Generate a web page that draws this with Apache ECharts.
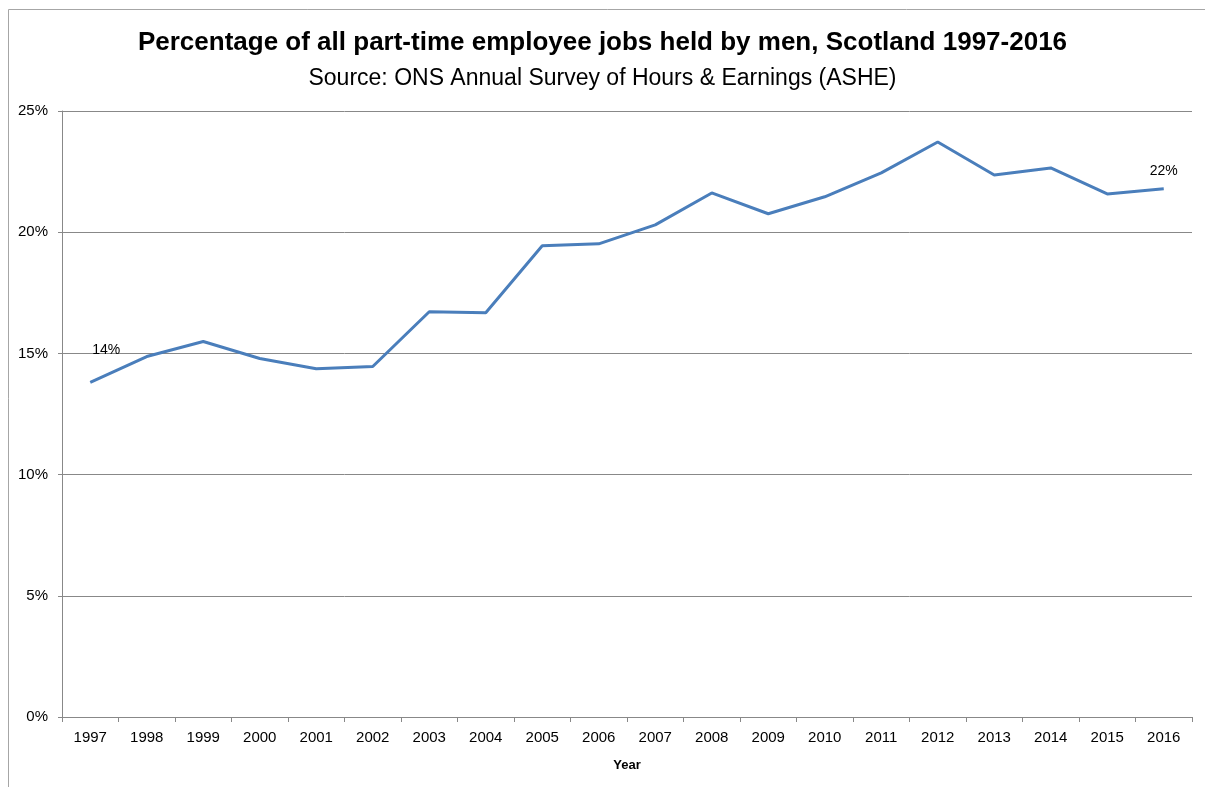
<!DOCTYPE html>
<html><head><meta charset="utf-8">
<script src="https://cdn.jsdelivr.net/npm/echarts@6/dist/echarts.min.js"></script>
<style>html,body{margin:0;padding:0;background:#fff}#c{width:1205px;height:787px}</style>
</head><body><div id="c"></div>
<script>
const years = ['1997','1998','1999','2000','2001','2002','2003','2004','2005','2006','2007','2008','2009','2010','2011','2012','2013','2014','2015','2016'];
const menShare = [13.8,14.87,15.49,14.79,14.37,14.46,16.72,16.68,19.44,19.52,20.30,21.62,20.76,21.46,22.45,23.72,22.36,22.65,21.58,21.79];
const yTicks = [0,5,10,15,20,25];
const titleText = 'Percentage of all part-time employee jobs held by men, Scotland 1997-2016';
const subText = 'Source: ONS Annual Survey of Hours & Earnings (ASHE)';
const labelled = {0:'14%', 19:'22%'};
const labelOffsets = {0:[16,-10], 19:[0,4]};

const font = 'Liberation Sans, sans-serif';
const seriesData = menShare.map((v,i)=>labelled[i]
  ? {value:v,label:{show:true,formatter:labelled[i],offset:labelOffsets[i]}}
  : {value:v});
const chart = echarts.init(document.getElementById('c'));
chart.setOption({
  animation:false,
  textStyle:{fontFamily:font},
  graphic:[{type:'rect',shape:{x:8.5,y:9.5,width:1210,height:800},style:{fill:'none',stroke:'#a6a6a6',lineWidth:1},silent:true}],
  title:[{text:titleText,left:'center',top:25,textStyle:{fontFamily:font,fontWeight:'bold',fontSize:26,color:'#000'}},
         {text:subText,left:'center',top:62,textStyle:{fontFamily:font,fontWeight:'normal',fontSize:23,color:'#000'}}],
  grid:{left:62,right:13,top:111,bottom:70,containLabel:false},
  xAxis:{type:'category',data:years,boundaryGap:true,name:'Year',nameLocation:'middle',nameGap:42,
    nameTextStyle:{fontFamily:font,fontWeight:'bold',fontSize:13,color:'#000'},
    axisLine:{lineStyle:{color:'#888',width:1}},
    axisTick:{show:true,alignWithLabel:false,length:5,lineStyle:{color:'#888'}},
    axisLabel:{fontFamily:font,fontSize:15,color:'#000',margin:13,interval:0}},
  yAxis:{type:'value',min:0,max:25,interval:5,
    axisLine:{show:true,lineStyle:{color:'#888'}},
    axisTick:{show:true,length:4,lineStyle:{color:'#888'}},
    axisLabel:{fontFamily:font,fontSize:15,color:'#000',margin:14,formatter:v=>v+'%'},
    splitLine:{lineStyle:{color:'#888',width:1}}},
  series:[{type:'line',data:seriesData,symbol:'circle',symbolSize:2,showSymbol:true,smooth:false,
    itemStyle:{color:'rgba(0,0,0,0)',borderWidth:0},
    lineStyle:{color:'#4a7ebb',width:3},
    label:{show:false,position:'top',distance:14,fontFamily:font,fontSize:14,color:'#000'}}]
});
</script></body></html>
